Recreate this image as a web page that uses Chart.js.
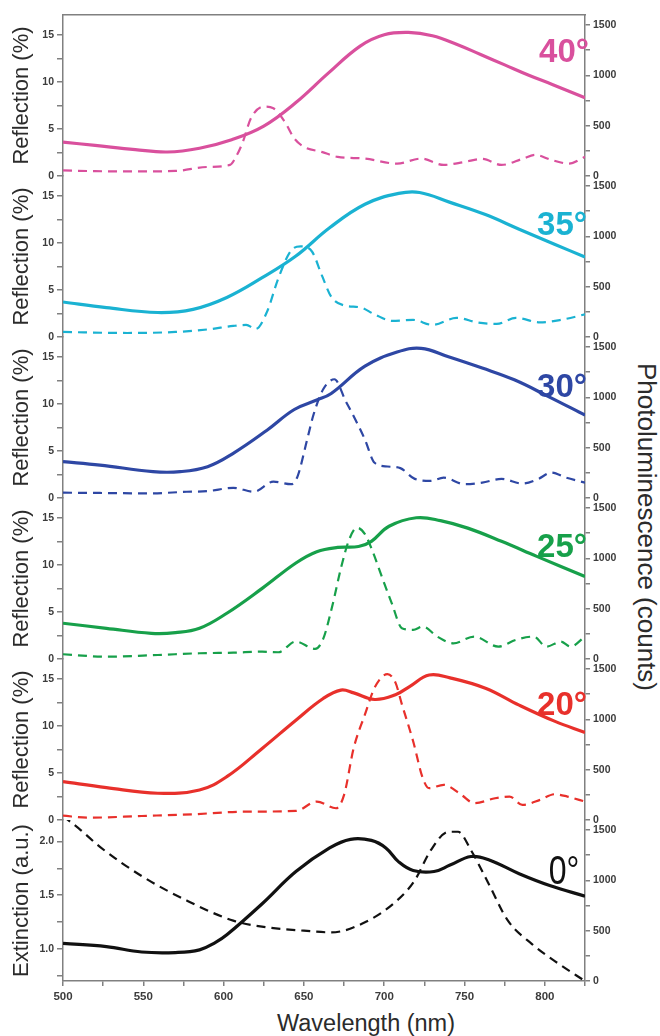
<!DOCTYPE html>
<html>
<head>
<meta charset="utf-8">
<script src="https://cdn.jsdelivr.net/npm/chart.js@4.4.0/dist/chart.umd.min.js"></script>
<style>
body { margin: 0; background: #fff; }
#wrap { position: relative; width: 660px; height: 1036px; overflow: hidden; font-family: "Liberation Sans", Arial, sans-serif; }
#wrap canvas { position: absolute; left: 0; }
.ang { position: absolute; line-height: 1; font-size: 33px; font-weight: bold; white-space: nowrap; }
.ang.zero { font-size: 40px; font-weight: normal; transform: scaleX(0.8); transform-origin: right center; }
#plTitle { position: absolute; left: 447px; top: 514px; width: 400px; line-height: 26px; font-size: 26px; color: #2b2b2b; text-align: center; transform: rotate(90deg); white-space: nowrap; }
#xTitle { position: absolute; left: 216px; top: 1012px; width: 300px; line-height: 1; font-size: 23.5px; color: #2b2b2b; text-align: center; white-space: nowrap; }
</style>
</head>
<body>
<div id="wrap">
  <div id="plTitle">Photoluminescence (counts)</div>
  <div id="xTitle">Wavelength (nm)</div>
</div>
<script>
// wavelength axis
var xTicks = [500, 525, 550, 575, 600, 625, 650, 675, 700, 725, 750, 775, 800, 825];
var xLabels = [500, 550, 600, 650, 700, 750, 800];
// left axes
var reflTicks = [0, 2.5, 5, 7.5, 10, 12.5, 15];
var reflLabels = [0, 5, 10, 15];
var extTicks = [0.75, 1, 1.25, 1.5, 1.75, 2];
var extLabels = [1, 1.5, 2];
// right axis (PL counts)
var plTicks = [0, 250, 500, 750, 1000, 1250, 1500];
var plLabels = [0, 500, 1000, 1500];

// 40 deg
var r40x = [500, 520, 545, 565, 585, 605, 625, 645, 665, 685, 700, 715, 730, 745, 760, 775, 790, 805, 825];
var r40y = [3.6, 3.25, 2.8, 2.55, 2.95, 3.85, 5.3, 7.8, 10.9, 13.8, 15.0, 15.25, 14.9, 14.0, 12.9, 11.8, 10.7, 9.7, 8.3];
var p40x = [500, 520, 545, 570, 590, 604, 608, 612, 617, 625, 631, 638, 644, 650, 661, 671, 688, 708, 723, 737, 750, 761, 773, 786, 794, 804, 815, 825];
var p40y = [55, 48, 45, 50, 90, 110, 200, 340, 573, 690, 673, 540, 373, 290, 240, 190, 173, 123, 173, 110, 140, 170, 110, 170, 210, 160, 123, 190];
// 35 deg
var r35x = [500, 527, 559, 581, 602, 624, 645, 666, 688, 709, 722, 741, 763, 784, 806, 825];
var r35y = [3.72, 3.12, 2.6, 2.94, 4.2, 6.3, 8.6, 11.6, 14.1, 15.25, 15.35, 14.3, 13.0, 11.45, 9.85, 8.5];
var p35x = [500, 540, 570, 590, 606, 614, 620, 627, 634, 642, 648, 655, 661, 667, 676, 685, 694, 705, 718, 730, 745, 758, 770, 782, 797, 810, 825];
var p35y = [50, 40, 50, 75, 110, 120, 80, 250, 580, 860, 900, 850, 620, 400, 310, 295, 225, 160, 170, 120, 190, 145, 130, 190, 145, 170, 225];
// 30 deg
var r30x = [500, 523, 556, 573, 590, 606, 627, 644, 658, 667, 688, 708, 723, 740, 761, 781, 802, 825];
var r30y = [3.86, 3.5, 2.8, 2.8, 3.33, 4.75, 7.2, 9.4, 10.4, 11.1, 14.0, 15.5, 15.9, 15.0, 13.8, 12.55, 10.8, 8.8];
var p30x = [500, 523, 554, 577, 590, 606, 619, 631, 642, 646, 652, 656, 662, 669, 676, 682, 688, 694, 702, 710, 719, 729, 737, 750, 761, 773, 786, 796, 804, 813, 825];
var p30y = [53, 50, 46, 62, 68, 101, 62, 163, 137, 213, 580, 830, 1080, 1180, 963, 780, 580, 350, 313, 297, 190, 170, 203, 137, 153, 190, 143, 190, 253, 203, 153];
// 25 deg
var r25x = [500, 527, 555, 570, 585, 602, 624, 645, 658, 671, 684, 692, 703, 720, 735, 752, 773, 795, 825];
var r25y = [3.8, 3.26, 2.73, 2.8, 3.26, 4.86, 7.5, 10.2, 11.4, 11.85, 11.95, 12.5, 14.1, 15.0, 14.7, 13.9, 12.5, 10.9, 8.76];
var p25x = [500, 527, 559, 585, 606, 624, 634, 645, 657, 662, 668, 673, 678, 683, 688, 693, 698, 705, 711, 718, 724, 733, 743, 756, 771, 782, 793, 801, 810, 816, 825];
var p25y = [47, 23, 40, 57, 63, 73, 67, 173, 100, 200, 550, 900, 1180, 1305, 1240, 1060, 840, 540, 306, 290, 323, 223, 156, 223, 123, 190, 223, 123, 173, 123, 223];
// 20 deg
var r20x = [500, 527, 559, 585, 602, 624, 645, 662, 673, 681, 694, 707, 716, 728, 741, 763, 784, 806, 825];
var r20y = [4.08, 3.44, 2.84, 3.19, 4.6, 7.6, 10.6, 12.9, 13.8, 13.5, 12.8, 13.3, 14.2, 15.4, 15.1, 14.0, 12.2, 10.5, 9.3];
var p20x = [500, 516, 549, 581, 613, 645, 658, 670, 675, 681, 688, 694, 702, 707, 711, 718, 724, 728, 737, 748, 756, 769, 778, 786, 797, 806, 814, 825];
var p20y = [43, 23, 40, 57, 83, 90, 183, 117, 250, 716, 1049, 1315, 1449, 1365, 1149, 783, 416, 316, 350, 250, 167, 216, 233, 150, 200, 256, 233, 183];
// 0 deg (extinction)
var r0x = [500, 527, 549, 570, 585, 595, 602, 624, 645, 666, 679, 692, 701, 709, 718, 731, 741, 754, 765, 784, 803, 825];
var r0y = [1.05, 1.02, 0.97, 0.965, 0.99, 1.06, 1.13, 1.42, 1.72, 1.94, 2.02, 2.01, 1.94, 1.81, 1.73, 1.72, 1.78, 1.86, 1.83, 1.70, 1.59, 1.49];
var p0x = [500, 511, 523, 550, 577, 606, 627, 650, 667, 688, 708, 719, 729, 740, 746, 754, 765, 777, 792, 809, 825];
var p0y = [1640, 1500, 1333, 1033, 800, 600, 533, 500, 483, 583, 800, 1000, 1300, 1483, 1483, 1300, 967, 600, 367, 167, 0];

var panels = [
  { label: '40°', color: '#d9509d', title: 'Reflection (%)', rx: r40x, ry: r40y, px: p40x, py: p40y },
  { label: '35°', color: '#1ab2d2', title: 'Reflection (%)', rx: r35x, ry: r35y, px: p35x, py: p35y },
  { label: '30°', color: '#2e47a4', title: 'Reflection (%)', rx: r30x, ry: r30y, px: p30x, py: p30y },
  { label: '25°', color: '#17a04a', title: 'Reflection (%)', rx: r25x, ry: r25y, px: p25x, py: p25y },
  { label: '20°', color: '#e8302b', title: 'Reflection (%)', rx: r20x, ry: r20y, px: p20x, py: p20y },
  { label: '0°',  color: '#111111', title: 'Extinction (a.u.)', rx: r0x, ry: r0y, px: p0x, py: p0y }
];

// layout (pixels)
var TOP = 15, PH = 161, PAD = 14, XH = 30;
var labelPos = [[34, 71], [207, 73], [369, 73], [529, 73], [687, 73], [850, 81]];
var axisCol = '#808080', tickCol = '#3c3c3c';
var fam = '"Liberation Sans", Arial, sans-serif';
Chart.defaults.font.family = fam;

function pts(xs, ys) {
  return xs.map(function (v, i) { return { x: v, y: ys[i] }; });
}
function setTicks(vals) {
  return function (s) { s.ticks = vals.map(function (v) { return { value: v }; }); };
}
function labelIf(vals, dec) {
  return function (v) { return vals.indexOf(v) >= 0 ? v.toFixed(dec) : ''; };
}

var wrap = document.getElementById('wrap');

panels.forEach(function (p, i) {
  var first = i === 0, last = i === panels.length - 1;
  var h = last ? PH + PAD + XH : PH + 2 * PAD;
  var cv = document.createElement('canvas');
  cv.width = 660; cv.height = h;
  cv.style.width = '660px'; cv.style.height = h + 'px';
  cv.style.top = (TOP + i * PH - PAD) + 'px';
  wrap.appendChild(cv);

  var xScale = {
    type: 'linear', min: 500, max: 825,
    afterBuildTicks: setTicks(xTicks),
    border: { color: axisCol, width: 1.5 }
  };
  if (last) {
    xScale.position = 'bottom';
    xScale.afterFit = function (s) { s.height = XH; };
    xScale.ticks = { autoSkip: false, maxRotation: 0, padding: 4, color: tickCol, font: { size: 11.5, weight: 'bold' }, callback: labelIf(xLabels, 0) };
    xScale.grid = { drawOnChartArea: false, tickLength: 5, color: axisCol, lineWidth: 1.5 };
  } else if (first) {
    xScale.position = 'top';
    xScale.afterFit = function (s) { s.height = 0; };
    xScale.ticks = { display: false };
    xScale.grid = { display: false };
  } else {
    xScale.display = false;
  }

  new Chart(cv, {
    type: 'line',
    data: {
      datasets: [
        // reflection / extinction: solid, left axis
        { data: pts(p.rx, p.ry), yAxisID: 'yL', borderColor: p.color, borderWidth: 3.2, pointRadius: 0, tension: 0.4 },
        // photoluminescence: dashed, right axis
        { data: pts(p.px, p.py), yAxisID: 'yR', borderColor: p.color, borderWidth: 2.2, borderDash: [9, 6], pointRadius: 0, cubicInterpolationMode: 'monotone' }
      ]
    },
    options: {
      responsive: false, animation: false, devicePixelRatio: 1,
      layout: { padding: { left: 0, right: 0, top: PAD, bottom: last ? 0 : PAD } },
      plugins: { legend: { display: false }, tooltip: { enabled: false } },
      scales: {
        x: xScale,
        yL: {
          position: 'left',
          min: last ? 0.7 : 0, max: last ? 2.2 : 17.1,
          afterBuildTicks: setTicks(last ? extTicks : reflTicks),
          afterFit: function (s) { s.width = 63; },
          ticks: { autoSkip: false, padding: 3, color: tickCol, font: { size: 10.5, weight: 'bold' }, callback: last ? labelIf(extLabels, 1) : labelIf(reflLabels, 0) },
          grid: { drawOnChartArea: false, tickLength: 6, color: axisCol, lineWidth: 1.5 },
          border: { color: axisCol, width: 1.5 },
          title: { display: true, text: p.title, color: '#2b2b2b', font: { size: 22 }, padding: { top: 9, bottom: 0 } }
        },
        yR: {
          position: 'right',
          min: 0, max: 1600,
          afterBuildTicks: setTicks(plTicks),
          afterFit: function (s) { s.width = 75; },
          ticks: { autoSkip: false, padding: 3, color: tickCol, font: { size: 10.5, weight: 'bold' }, callback: labelIf(plLabels, 0) },
          grid: { drawOnChartArea: false, tickLength: 5, color: axisCol, lineWidth: 1.5 },
          border: { color: axisCol, width: 1.5 }
        }
      }
    }
  });

  var d = document.createElement('div');
  d.className = last ? 'ang zero' : 'ang';
  d.textContent = p.label;
  d.style.color = p.color;
  d.style.top = labelPos[i][0] + 'px';
  d.style.right = labelPos[i][1] + 'px';
  wrap.appendChild(d);
});
</script>
</body>
</html>
